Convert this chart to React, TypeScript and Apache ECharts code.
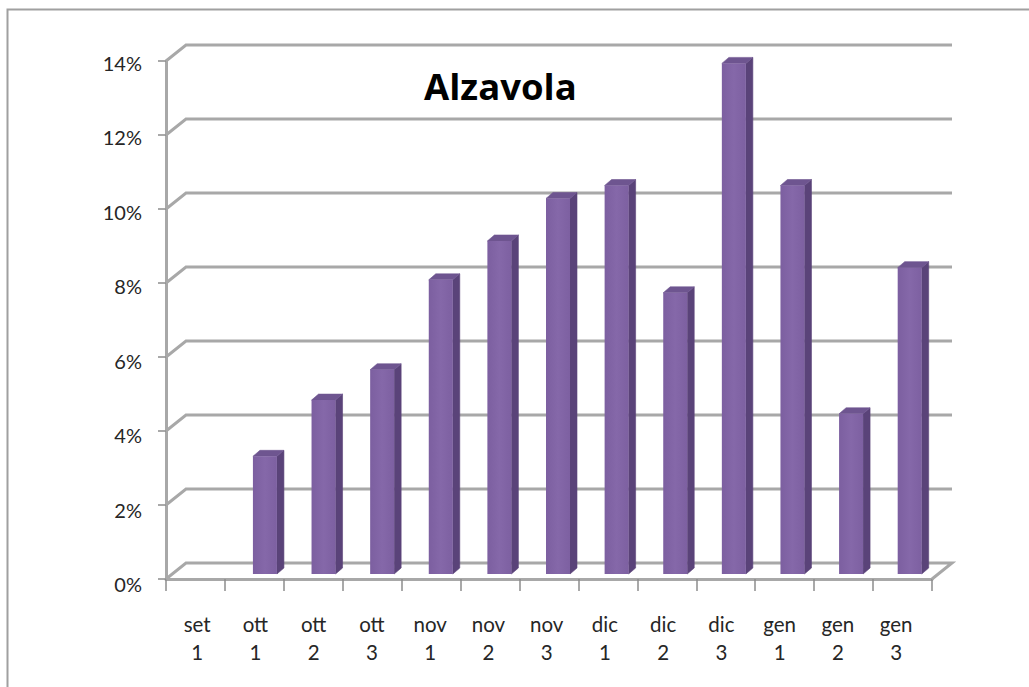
import React, { useEffect, useRef } from "react";
import * as echarts from "echarts";

const categories = ["set\n1", "ott\n1", "ott\n2", "ott\n3", "nov\n1", "nov\n2", "nov\n3", "dic\n1", "dic\n2", "dic\n3", "gen\n1", "gen\n2", "gen\n3"];
const values: (number | null)[] = [null, 3.18, 4.7, 5.52, 7.95, 9.0, 10.15, 10.5, 7.6, 13.8, 10.5, 4.33, 8.28];
const gridTicks = [0, 2, 4, 6, 8, 10, 12, 14];
const titleText = "Alzavola";

const FONT = "Lato, 'Open Sans', sans-serif";
const TITLE_FONT = "'Open Sans', sans-serif";
const GRAY = "#a8a8a8";
const WALL_DX = 20;
const WALL_DY = 16;
const BAR_W = 24;
const BAR_DX = 7;
const BAR_DY = 6;

export default function App() {
  const ref = useRef<HTMLDivElement>(null);
  useEffect(() => {
    const chart = echarts.init(ref.current!, undefined, { renderer: "svg" });
    const hiddenAxis = { show: false };
    chart.setOption({
      animation: false,
      backgroundColor: "#ffffff",
      title: {
        text: titleText,
        left: 419,
        top: 62,
        textStyle: { fontFamily: TITLE_FONT, fontSize: 36.5, fontWeight: "bold", color: "#000000" },
      },
      graphic: [
        {
          type: "polyline",
          silent: true,
          shape: { points: [[7.5, 687], [7.5, 9.5], [1029, 9.5]] },
          style: { stroke: "#a0a0a0", lineWidth: 2, fill: "none" },
        },
      ],
      grid: [
        { left: 166, top: 61, width: 766, height: 518 },
        { left: 177, top: 56, width: 762, height: 518 },
        { left: 168, top: 63, width: 757.25, height: 521 },
      ],
      xAxis: [
        {
          type: "category",
          gridIndex: 0,
          data: categories,
          axisLine: { lineStyle: { color: GRAY, width: 3 } },
          axisTick: { show: true, alignWithLabel: false, length: 12, lineStyle: { color: "#8c8c8c", width: 1.5 } },
          axisLabel: { show: false },
          splitLine: { show: false },
        },
        { type: "category", gridIndex: 1, data: categories, ...hiddenAxis },
        {
          type: "category",
          gridIndex: 2,
          data: categories,
          axisLine: { show: false },
          axisTick: { show: false },
          axisLabel: { interval: 0, margin: 26, fontFamily: FONT, fontSize: 20.5, lineHeight: 28, color: "#262626" },
        },
      ],
      yAxis: [
        {
          type: "value",
          gridIndex: 0,
          min: 0,
          max: 14,
          interval: 2,
          axisLine: { show: true, lineStyle: { color: GRAY, width: 3 } },
          axisTick: { show: true, length: 8, lineStyle: { color: "#8c8c8c", width: 1.5 } },
          axisLabel: { show: false },
          splitLine: { show: false },
        },
        { type: "value", gridIndex: 1, min: 0, max: 14, interval: 2, ...hiddenAxis },
        {
          type: "value",
          gridIndex: 2,
          min: 0,
          max: 14,
          interval: 2,
          axisLine: { show: false },
          axisTick: { show: false },
          splitLine: { show: false },
          axisLabel: { margin: 26, formatter: "{value}%", fontFamily: FONT, fontSize: 20, color: "#262626" },
        },
      ],
      series: [
        {
          type: "custom",
          name: "wall",
          xAxisIndex: 0,
          yAxisIndex: 0,
          silent: true,
          z: 1,
          data: gridTicks.map((t) => [0, t]),
          renderItem: (_p: any, api: any) => {
            const y = api.coord([0, api.value(1)])[1];
            const band = api.size([1, 0])[0];
            const x0 = api.coord([0, 0])[0] - band / 2;
            const x1 = x0 + band * categories.length;
            return {
              type: "polyline",
              shape: {
                points: [
                  [x0, y],
                  [x0 + WALL_DX, y - WALL_DY],
                  [x1 + WALL_DX, y - WALL_DY],
                  ...(api.value(1) === 0 ? [[x1, y]] : []),
                ],
              },
              style: { stroke: GRAY, lineWidth: 3, fill: "none" },
            };
          },
        },
        {
          type: "custom",
          name: "Alzavola",
          xAxisIndex: 1,
          yAxisIndex: 1,
          silent: true,
          z: 3,
          data: values.map((v, i) => [i, v]),
          renderItem: (_p: any, api: any) => {
            const v = api.value(1);
            if (v == null || isNaN(v)) return null;
            const [cx, top] = api.coord([api.value(0), v]);
            const bottom = api.coord([api.value(0), 0])[1];
            const l = cx - BAR_W / 2;
            const r = cx + BAR_W / 2;
            return {
              type: "group",
              children: [
                {
                  type: "polygon",
                  shape: { points: [[r, top], [r + BAR_DX, top - BAR_DY], [r + BAR_DX, bottom - BAR_DY], [r, bottom]] },
                  style: { fill: "#5a4379", stroke: "#5a4379", lineWidth: 0.6 },
                },
                {
                  type: "polygon",
                  shape: { points: [[l, top], [l + BAR_DX, top - BAR_DY], [r + BAR_DX, top - BAR_DY], [r, top]] },
                  style: { fill: "#6e5590", stroke: "#6e5590", lineWidth: 0.6 },
                },
                {
                  type: "rect",
                  shape: { x: l, y: top, width: BAR_W, height: bottom - top },
                  style: {
                    fill: new echarts.graphic.LinearGradient(0, 0, 1, 0, [
                      { offset: 0, color: "#7c5fa0" },
                      { offset: 0.5, color: "#8568a9" },
                      { offset: 1, color: "#7d60a1" },
                    ]),
                  },
                },
              ],
            };
          },
        },
      ],
    });
    return () => chart.dispose();
  }, []);
  return <div ref={ref} style={{ position: "fixed", left: 0, top: 0, width: 1029, height: 687 }} />;
}
